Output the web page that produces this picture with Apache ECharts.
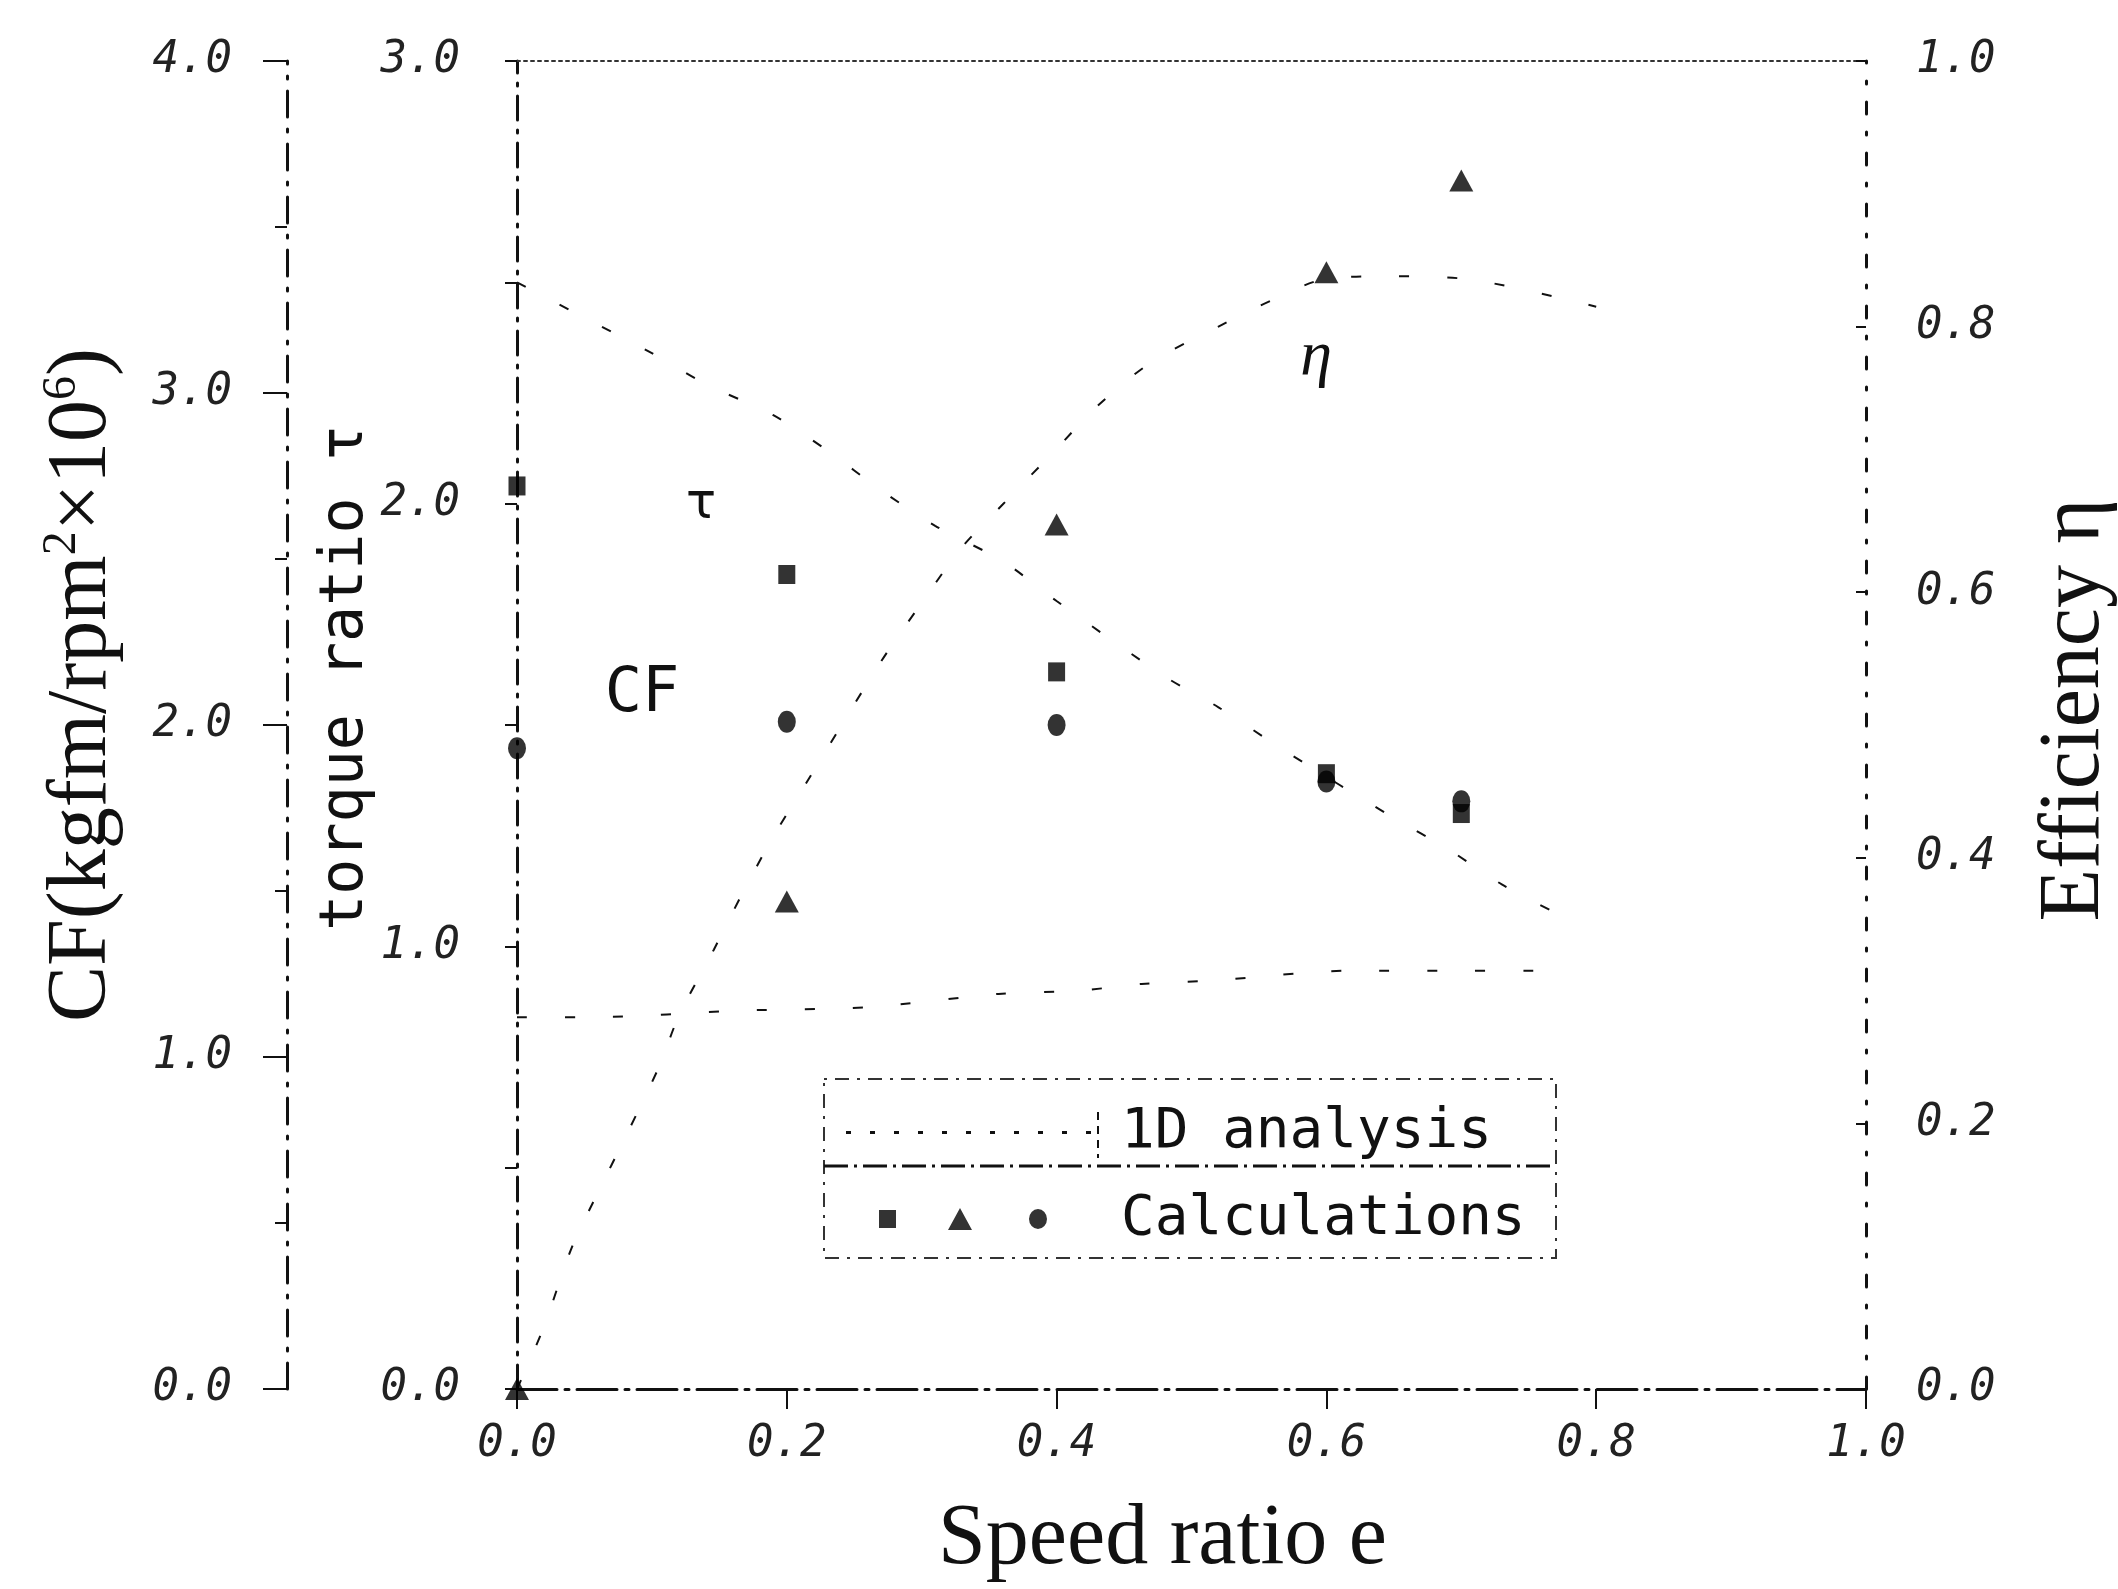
<!DOCTYPE html>
<html>
<head>
<meta charset="utf-8">
<title>Speed ratio e</title>
<script src="https://cdn.jsdelivr.net/npm/echarts@6/dist/echarts.min.js"></script>
<style>
  html, body { margin: 0; padding: 0; background: #fff; }
  #chart { width: 2118px; height: 1589px; }
</style>
</head>
<body>
<div id="chart"></div>
<script>
// 1D analysis curves
const tauLineE = [0, 0.05, 0.10, 0.14, 0.19, 0.23, 0.27, 0.31, 0.36, 0.40, 0.48, 0.52, 0.57, 0.65, 0.69, 0.73, 0.78];
const tauLine  = [2.50, 2.42, 2.34, 2.27, 2.20, 2.12, 2.03, 1.95, 1.87, 1.78, 1.61, 1.54, 1.44, 1.29, 1.22, 1.14, 1.06];

const etaLineE = [0, 0.02, 0.04, 0.06, 0.08, 0.105, 0.12, 0.146, 0.167, 0.19, 0.216, 0.27, 0.30, 0.33, 0.36, 0.40, 0.43, 0.47, 0.52, 0.56, 0.60, 0.65, 0.71, 0.80];
const etaLine  = [0, 0.047, 0.105, 0.148, 0.189, 0.242, 0.281, 0.331, 0.373, 0.416, 0.459, 0.548, 0.592, 0.634, 0.666, 0.708, 0.740, 0.773, 0.800, 0.820, 0.836, 0.838, 0.835, 0.815];

const cfLineE = [0, 0.055, 0.167, 0.26, 0.357, 0.417, 0.463, 0.515, 0.619, 0.708, 0.755];
const cfLine  = [1.12, 1.12, 1.14, 1.15, 1.19, 1.20, 1.22, 1.23, 1.26, 1.26, 1.26];

// calculations
const calcE   = [0, 0.2, 0.4, 0.6, 0.7];
const tauCalc = [2.04, 1.84, 1.62, 1.39, 1.30];
const etaCalc = [0, 0.367, 0.651, 0.841, 0.910];
const cfCalc  = [1.93, 2.01, 2.00, 1.83, 1.77];

function pairs(xs, ys) {
  return xs.map((x, i) => [x, ys[i]]);
}

const ink = '#111';
const mono = 'DejaVu Sans Mono';
const tickFont = {
  fontFamily: mono,
  fontStyle: 'italic',
  fontSize: 44,
  color: '#222',
  formatter: v => v.toFixed(1)
};
const curveStyle = { color: ink, width: 2, type: [10, 38] };

// legend icons drawn in a 252x30 box (corner specks pin the box size)
const corners = 'M0 0L0.1 0L0 0.1Z M252 30L251.9 30L252 29.9Z';
let dotted = 'path://' + corners;
for (let x = 4; x < 250; x += 24) dotted += 'M' + x + ' 14H' + (x + 5) + 'V17H' + x + 'Z';
const calcIcon = 'path://' + corners +
  'M37 6H54V24H37Z' +
  'M106 26L118 4L130 26Z' +
  'M187 15A9 10 0 1 0 205 15A9 10 0 1 0 187 15Z';

const chart = echarts.init(document.getElementById('chart'));
chart.setOption({
  animation: false,
  backgroundColor: '#fff',
  grid: { left: 517, right: 252, top: 61, bottom: 200, containLabel: false, outerBoundsMode: 'none' },
  xAxis: [
    {
      type: 'value', position: 'bottom', min: 0, max: 1, interval: 0.2,
      name: 'Speed ratio e', nameLocation: 'middle', nameGap: 108,
      nameTextStyle: { fontFamily: 'Liberation Serif', fontSize: 86, color: ink, padding: [0, 58, 0, 0] },
      axisLine: { show: true, onZero: false, lineStyle: { color: ink, width: 3, type: [40, 8, 4, 8] } },
      axisTick: { show: true, inside: false, length: 20, lineStyle: { width: 2 } },
      axisLabel: Object.assign({ margin: 34 }, tickFont),
      splitLine: { show: false }
    },
    {
      type: 'value', position: 'top', min: 0, max: 1,
      axisLine: { show: true, onZero: false, lineStyle: { color: '#333', width: 2, type: [3, 4] } },
      axisTick: { show: false },
      axisLabel: { show: false },
      splitLine: { show: false }
    }
  ],
  yAxis: [
    { // torque ratio, inner left (title drawn as graphic text below)
      type: 'value', position: 'left', min: 0, max: 3, interval: 1,
      axisLine: { show: true, onZero: false, lineStyle: { color: ink, width: 3, type: [24, 10, 3, 10] } },
      axisTick: { show: true, inside: false, length: 12, lineStyle: { width: 2 } },
      minorTick: { show: true, splitNumber: 2, length: 12, lineStyle: { color: ink, width: 2 } },
      axisLabel: Object.assign({ margin: 57 }, tickFont),
      splitLine: { show: false }
    },
    { // CF, outer left
      type: 'value', position: 'left', offset: 230, min: 0, max: 4, interval: 1,
      name: '{m|CF(kgfm/rpm}{s|2}{m|×10}{s|6}{m|)}',
      nameLocation: 'middle', nameGap: 159, nameRotate: 90,
      nameTextStyle: {
        padding: [0, 0, 0, 80],
        rich: {
          m: { fontFamily: 'Liberation Serif', fontSize: 84, lineHeight: 90, color: ink },
          s: { fontFamily: 'Liberation Serif', fontSize: 48, lineHeight: 34, verticalAlign: 'top', color: ink }
        }
      },
      axisLine: { show: true, onZero: false, lineStyle: { color: ink, width: 3, type: [26, 12, 3, 12] } },
      axisTick: { show: true, inside: false, length: 24, lineStyle: { width: 2 } },
      minorTick: { show: true, splitNumber: 2, length: 12, lineStyle: { color: ink, width: 2 } },
      axisLabel: Object.assign({ margin: 55 }, tickFont),
      splitLine: { show: false }
    },
    { // efficiency, right
      type: 'value', position: 'right', min: 0, max: 1, interval: 0.2,
      name: 'Efficiency η', nameLocation: 'middle', nameGap: 166, nameRotate: 90,
      nameTextStyle: { fontFamily: 'Liberation Serif', fontSize: 86, color: ink, padding: [0, 0, 0, 30] },
      axisLine: { show: true, onZero: false, lineStyle: { color: ink, width: 3, type: [12, 18, 3, 18] } },
      axisTick: { show: true, inside: true, length: 10, lineStyle: { width: 2 } },
      axisLabel: Object.assign({ margin: 50 }, tickFont),
      splitLine: { show: false }
    }
  ],
  legend: {
    orient: 'vertical', left: 837, top: 1097,
    itemWidth: 252, itemHeight: 30, itemGap: 27,
    selectedMode: false,
    textStyle: { fontFamily: mono, fontSize: 56, color: ink, lineHeight: 60, padding: [0, 0, 0, 22] },
    data: [{ name: '1D analysis', icon: dotted }, { name: 'Calculations', icon: calcIcon }]
  },
  series: [
    { name: '1D analysis', type: 'line', yAxisIndex: 0, data: pairs(tauLineE, tauLine),
      symbol: 'none', smooth: 0.3, lineStyle: curveStyle, itemStyle: { color: ink } },
    { name: '1D analysis', type: 'line', yAxisIndex: 2, data: pairs(etaLineE, etaLine),
      symbol: 'none', smooth: 0.3, lineStyle: curveStyle, itemStyle: { color: ink } },
    { name: '1D analysis', type: 'line', yAxisIndex: 1, data: pairs(cfLineE, cfLine),
      symbol: 'none', smooth: 0.3, lineStyle: curveStyle, itemStyle: { color: ink } },
    { name: 'Calculations', type: 'scatter', yAxisIndex: 0, data: pairs(calcE, tauCalc),
      symbol: 'rect', symbolSize: [17, 19], clip: false, itemStyle: { color: '#000' }, z: 5 },
    { name: 'Calculations', type: 'scatter', yAxisIndex: 2, data: pairs(calcE, etaCalc),
      symbol: 'triangle', symbolSize: [24, 22], clip: false, itemStyle: { color: '#000' }, z: 5 },
    { name: 'Calculations', type: 'scatter', yAxisIndex: 1, data: pairs(calcE, cfCalc),
      symbol: 'circle', symbolSize: [18, 22], clip: false, itemStyle: { color: '#000' }, z: 5 }
  ],
  graphic: [
    { type: 'text', x: 346, y: 678, rotation: Math.PI / 2,
      style: { text: 'torque ratio τ', fontFamily: mono, fontSize: 60, fill: ink, align: 'center', verticalAlign: 'middle' } },
    { type: 'rect', shape: { x: 824, y: 1079, width: 732, height: 179 },
      style: { fill: null, stroke: '#333', lineWidth: 2, lineDash: [3, 8, 14, 8] } },
    { type: 'line', shape: { x1: 824, y1: 1166, x2: 1556, y2: 1166 },
      style: { stroke: ink, lineWidth: 3, lineDash: [24, 6, 3, 6] } },
    { type: 'line', shape: { x1: 1098, y1: 1112, x2: 1098, y2: 1158 },
      style: { stroke: ink, lineWidth: 2, lineDash: [8, 6] } },
    { type: 'text', x: 701, y: 505,
      style: { text: 'τ', fontFamily: 'DejaVu Sans', fontSize: 50, fill: ink, align: 'center', verticalAlign: 'middle' } },
    { type: 'text', x: 642, y: 695,
      style: { text: 'CF', fontFamily: mono, fontSize: 62, fill: ink, align: 'center', verticalAlign: 'middle' } },
    { type: 'text', x: 1316, y: 357,
      style: { text: 'η', fontFamily: 'Liberation Serif', fontStyle: 'italic', fontSize: 64, fill: ink, align: 'center', verticalAlign: 'middle' } }
  ]
});
</script>
</body>
</html>
